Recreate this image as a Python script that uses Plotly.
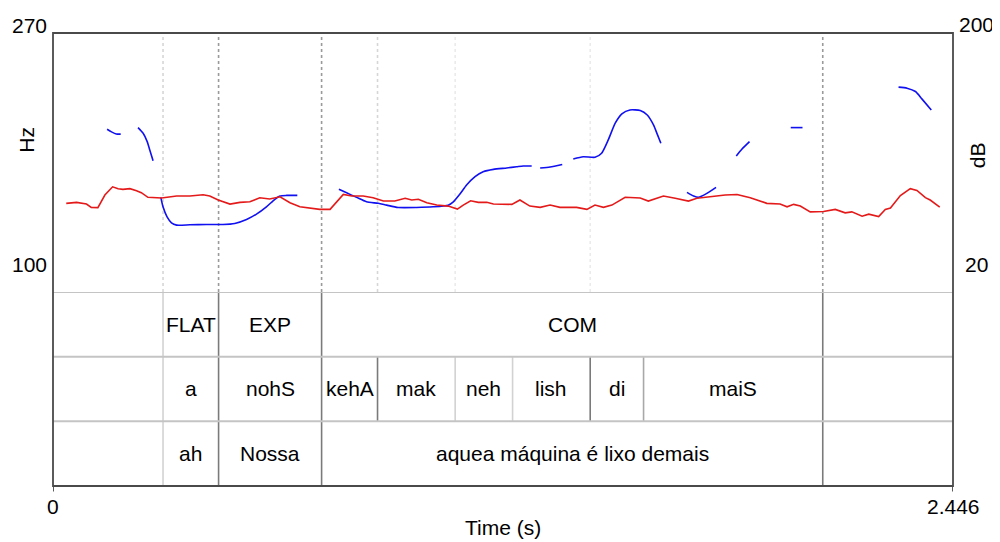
import plotly.graph_objects as go

# ---------------- data ----------------
T_MAX = 2.446
PITCH_MIN, PITCH_MAX = 100, 270
DB_MIN, DB_MAX = 20, 200

# pitch contour (Hz), voiced stretches
pitch_t = [
    [0.147, 0.159, 0.172, 0.184],
    [0.231, 0.245, 0.256, 0.263, 0.272],
    [0.293, 0.299, 0.310, 0.322, 0.336, 0.372, 0.417, 0.462, 0.494, 0.526, 0.553, 0.580, 0.603, 0.617, 0.635, 0.664],
    [0.777, 0.798, 0.825, 0.852, 0.884, 0.907, 0.938, 0.988, 1.033, 1.074, 1.088, 1.106, 1.124, 1.147, 1.169, 1.197, 1.233, 1.260, 1.278, 1.301],
    [1.324, 1.351, 1.384],
    [1.414, 1.441, 1.473, 1.491, 1.509, 1.528, 1.546, 1.568, 1.596, 1.615, 1.632, 1.643, 1.652],
    [1.723, 1.741, 1.754, 1.777, 1.802],
    [1.857, 1.872, 1.893],
    [2.005, 2.037],
    [2.298, 2.321, 2.344, 2.362, 2.387],
]
pitch_hz = [
    [206.8, 205.1, 203.7, 203.6],
    [207.9, 204.2, 198.7, 193.2, 186.2],
    [162.1, 155.9, 149.3, 145.4, 143.9, 144.1, 144.3, 144.3, 145.0, 147.6, 151.1, 155.9, 160.8, 163.0, 163.4, 163.4],
    [167.4, 165.1, 162.1, 159.2, 158.2, 157.0, 155.5, 155.5, 155.9, 157.0, 159.2, 164.3, 170.2, 175.7, 178.9, 180.5, 181.4, 182.2, 182.7, 182.7],
    [181.4, 182.0, 183.7],
    [187.3, 188.8, 188.4, 191.1, 199.8, 210.8, 216.9, 219.5, 219.1, 216.2, 209.7, 203.1, 197.6],
    [165.4, 163.0, 162.1, 164.7, 168.7],
    [189.3, 193.7, 198.7],
    [207.9, 207.9],
    [234.5, 233.8, 231.6, 226.6, 219.5],
]

# intensity contour (dB)
intensity_t = [
    0.036, 0.064, 0.091, 0.104, 0.122, 0.141, 0.162, 0.177, 0.190, 0.209, 0.227, 0.240, 0.258, 0.295,
    0.336, 0.372, 0.408, 0.426, 0.449, 0.481, 0.508, 0.535, 0.562, 0.589, 0.617, 0.644, 0.671, 0.698,
    0.725, 0.753, 0.771, 0.789, 0.812, 0.843, 0.870, 0.898, 0.929, 0.957, 0.975, 0.993, 1.016, 1.043,
    1.074, 1.099, 1.115, 1.135, 1.156, 1.179, 1.197, 1.224, 1.247, 1.269, 1.296, 1.324, 1.351, 1.378,
    1.423, 1.451, 1.473, 1.496, 1.519, 1.555, 1.596, 1.618, 1.659, 1.691, 1.727, 1.750, 1.786, 1.827,
    1.859, 1.895, 1.940, 1.976, 1.995, 2.013, 2.031, 2.058, 2.094, 2.126, 2.153, 2.171, 2.199, 2.217,
    2.244, 2.262, 2.276, 2.303, 2.330, 2.348, 2.371, 2.384, 2.410,
]
intensity_db = [
    81.6, 82.3, 81.1, 78.8, 78.6, 87.4, 93.1, 91.8, 91.3, 91.8, 90.4, 89.0, 85.8, 85.3,
    86.7, 86.7, 87.6, 86.7, 83.9, 81.1, 82.3, 82.7, 85.5, 84.6, 86.2, 82.0, 79.2, 78.3,
    77.4, 77.4, 82.7, 87.8, 86.7, 86.7, 85.5, 83.2, 83.2, 85.1, 83.9, 84.4, 82.0, 80.4,
    79.7, 77.6, 80.4, 83.4, 82.3, 82.3, 81.1, 81.1, 80.9, 83.9, 79.7, 78.8, 80.4, 78.8,
    78.8, 77.4, 80.4, 78.8, 80.4, 85.8, 85.3, 83.2, 86.7, 85.1, 83.2, 85.1, 86.2, 87.4,
    87.8, 85.5, 81.6, 81.1, 79.2, 80.9, 79.7, 75.7, 75.9, 77.4, 75.0, 75.7, 72.7, 74.1,
    72.4, 77.4, 78.3, 87.0, 91.8, 90.6, 85.6, 83.9, 79.0,
]

# TextGrid tiers (top to bottom)
tier1_bounds = [0, 0.299, 0.450, 0.730, 2.092, T_MAX]
tier1_labels = ["", "FLAT", "EXP", "COM", ""]
tier2_bounds = [0, 0.299, 0.450, 0.730, 0.882, 1.093, 1.249, 1.460, 1.605, 2.092, T_MAX]
tier2_labels = ["", "a", "nohS", "kehA", "mak", "neh", "lish", "di", "maiS", ""]
tier3_bounds = [0, 0.299, 0.450, 0.730, 2.092, T_MAX]
tier3_labels = ["", "ah", "Nossa", "aquea máquina é lixo demais", ""]

# ---------------- styling helpers ----------------
FONT = "Liberation Sans, Arial, Helvetica, sans-serif"
FS = 21
DARK = "#7a7a7a"
LIGHT = "#d2d2d2"
MID = "#a8a8a8"

# colour of each boundary line inside the tiers
tier_line_color = {0.299: LIGHT, 0.450: DARK, 0.730: DARK, 0.882: DARK, 1.093: LIGHT,
                   1.249: LIGHT, 1.460: DARK, 1.605: MID, 2.092: DARK}
# boundaries repeated as dotted lines over the pitch area
pitch_area_lines = {0.299: "#d6d6d6", 0.450: "#9a9a9a", 0.730: "#9a9a9a", 0.882: "#d6d6d6",
                    1.093: "#ebebeb", 1.460: "#ebebeb", 2.092: "#9a9a9a"}

PITCH_DOMAIN = [0.4283, 1.0]
TIER_DOMAIN = [0.0, 0.4283]

fig = go.Figure()

# pitch (blue)
px, py = [], []
for ts, hs in zip(pitch_t, pitch_hz):
    px += ts + [None]
    py += hs + [None]
fig.add_trace(go.Scatter(x=px, y=py, mode="lines", yaxis="y",
                         line=dict(color="#1010f0", width=1.6, shape="spline", smoothing=0.6),
                         connectgaps=False, hoverinfo="skip", showlegend=False))

# intensity (red)
fig.add_trace(go.Scatter(x=intensity_t, y=intensity_db, mode="lines", yaxis="y2",
                         line=dict(color="#e41a1a", width=1.6),
                         hoverinfo="skip", showlegend=False))

shapes = []
annotations = []

# dotted boundary lines over pitch area
for t, col in pitch_area_lines.items():
    shapes.append(dict(type="line", xref="x", yref="y domain", x0=t, x1=t, y0=0, y1=1,
                       line=dict(color=col, width=1.6, dash="dot"), layer="below"))

# tiers
tiers = [(tier1_bounds, tier1_labels, 2), (tier2_bounds, tier2_labels, 1), (tier3_bounds, tier3_labels, 0)]
for bounds, labels, base in tiers:
    for b in bounds[1:-1]:
        shapes.append(dict(type="line", xref="x", yref="y3", x0=b, x1=b, y0=base, y1=base + 1,
                           line=dict(color=tier_line_color.get(b, DARK), width=1.6)))
    for i, lab in enumerate(labels):
        if lab:
            annotations.append(dict(x=(bounds[i] + bounds[i + 1]) / 2, y=base + 0.5, xref="x", yref="y3",
                                    text=lab, showarrow=False, font=dict(family=FONT, size=FS, color="black"),
                                    xanchor="center", yanchor="middle"))

# horizontal tier separators
for yv in [1, 2, 3]:
    shapes.append(dict(type="line", xref="paper", yref="y3", x0=0, x1=1, y0=yv, y1=yv,
                       line=dict(color="#c4c4c4", width=2)))

# outer frame
shapes.append(dict(type="rect", xref="paper", yref="paper", x0=0, x1=1, y0=0, y1=1,
                   line=dict(color="#4a4a4a", width=1.8)))
# bottom tick marks
for t in [0, T_MAX]:
    shapes.append(dict(type="line", xref="x", yref="paper", x0=t, x1=t, y0=0, y1=-0.012,
                       line=dict(color="#4a4a4a", width=1.8)))

def txt(text, x, y, xref, yref, xanchor="center", xshift=0, yshift=0, angle=0):
    annotations.append(dict(text=text, x=x, y=y, xref=xref, yref=yref, showarrow=False,
                            xanchor=xanchor, yanchor="middle", xshift=xshift, yshift=yshift,
                            textangle=angle, font=dict(family=FONT, size=FS, color="black")))

# left axis labels (pitch)
txt(str(PITCH_MAX), 0, PITCH_MAX, "paper", "y", xshift=-24, yshift=8)
txt(str(PITCH_MIN), 0, PITCH_MIN, "paper", "y", xshift=-24, yshift=27)
txt("Hz", 0, 200, "paper", "y", xshift=-26, angle=-90)
# right axis labels (intensity)
txt(str(DB_MAX), 1, DB_MAX, "paper", "y2", xshift=23, yshift=9)
txt(str(DB_MIN), 1, DB_MIN, "paper", "y2", xshift=23, yshift=27)
txt("dB", 1, 115, "paper", "y2", xshift=24, angle=-90)
# time axis labels
txt("0", 0, 0, "x", "paper", yshift=-20)
txt(str(T_MAX), T_MAX, 0, "x", "paper", yshift=-20)
txt("Time (s)", 0.5, 0, "paper", "paper", yshift=-41)

# the page adds an 8 px body margin, so the figure is placed 8 px right/down
fig.update_layout(
    width=1000, height=542,
    margin=dict(l=45, r=55, t=25, b=64),
    paper_bgcolor="white", plot_bgcolor="white",
    xaxis=dict(range=[0, T_MAX], showgrid=False, zeroline=False, showticklabels=False, ticks="",
               showline=False, fixedrange=True),
    yaxis=dict(domain=PITCH_DOMAIN, range=[PITCH_MIN, PITCH_MAX], showgrid=False, zeroline=False,
               showticklabels=False, ticks="", showline=False),
    yaxis2=dict(domain=PITCH_DOMAIN, range=[DB_MIN, DB_MAX], overlaying="y", side="right",
                showgrid=False, zeroline=False, showticklabels=False, ticks="", showline=False),
    yaxis3=dict(domain=TIER_DOMAIN, range=[0, 3], showgrid=False, zeroline=False,
                showticklabels=False, ticks="", showline=False),
    shapes=shapes,
    annotations=annotations,
    showlegend=False,
)

fig.write_html("out.html")
